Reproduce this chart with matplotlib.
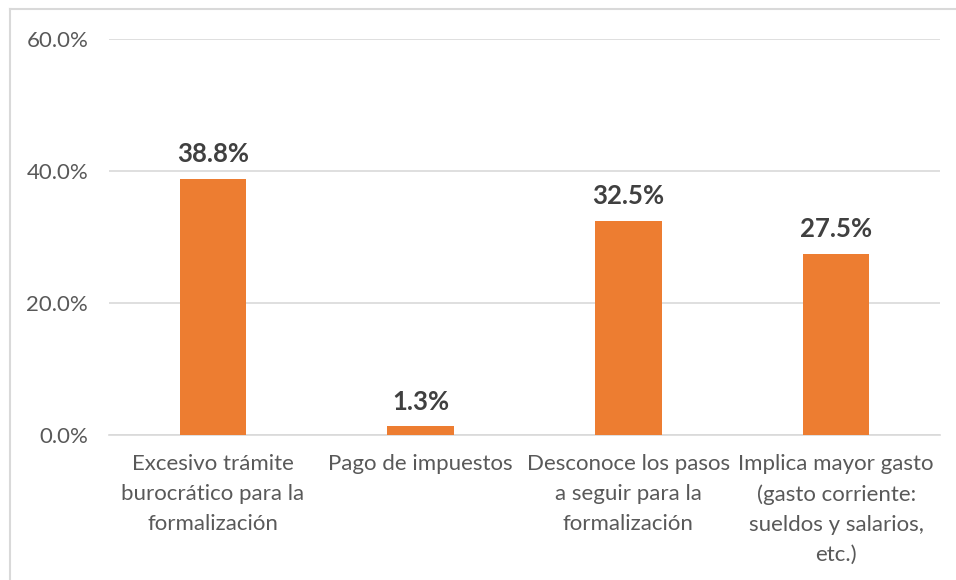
import matplotlib
matplotlib.use("Agg")
import matplotlib.pyplot as plt
from matplotlib.lines import Line2D
from matplotlib.ticker import FuncFormatter

categories = [
    "Excesivo trámite\nburocrático para la\nformalización",
    "Pago de impuestos",
    "Desconoce los pasos\na seguir para la\nformalización",
    "Implica mayor gasto\n(gasto corriente:\nsueldos y salarios,\netc.)",
]
values = [38.8, 1.3, 32.5, 27.5]
yticks = [0, 20, 40, 60]

BAR = "#ED7D31"
TXT = "#595959"
LBL = "#404040"
GRID = "#D9D9D9"

plt.rcParams["font.family"] = ["Lato", "DejaVu Sans"]

fig = plt.figure(figsize=(9.56, 5.8), dpi=100)
ax = fig.add_axes([109/956, 1-435/580, (940-109)/956, (435-39)/580])

x = list(range(len(categories)))
bars = ax.bar(x, values, width=0.32, color=BAR, zorder=3)
for xi, v in zip(x, values):
    ax.annotate(f"{v:.1f}%", (xi, v), xytext=(0, 9), textcoords="offset points",
                ha="center", va="bottom", fontsize=18.5, fontweight="bold", color=LBL)

ax.set_xlim(-0.5, len(categories) - 0.5)
ax.set_ylim(0, 60)
ax.set_yticks(yticks)
ax.yaxis.set_major_formatter(FuncFormatter(lambda v, p: f"{v:.1f}%"))
ax.set_xticks(x)
ax.set_xticklabels(categories, linespacing=1.62)
ax.tick_params(axis="y", length=0, pad=15, labelsize=16, labelcolor=TXT)
ax.tick_params(axis="x", length=0, pad=14, labelsize=16, labelcolor=TXT)
ax.grid(axis="y", color=GRID, linewidth=1.2, zorder=0)
for s in ["top", "right", "left"]:
    ax.spines[s].set_visible(False)
ax.spines["bottom"].set_color(GRID)
ax.spines["bottom"].set_linewidth(1.2)

# chart border (Excel chart area)
fig.add_artist(Line2D([10/956, 10/956], [0, 1-9/580], transform=fig.transFigure, color=GRID, linewidth=1.5))
fig.add_artist(Line2D([10/956, 1], [1-9/580, 1-9/580], transform=fig.transFigure, color=GRID, linewidth=1.5))

fig.savefig("out.png", dpi=100, facecolor="white")
